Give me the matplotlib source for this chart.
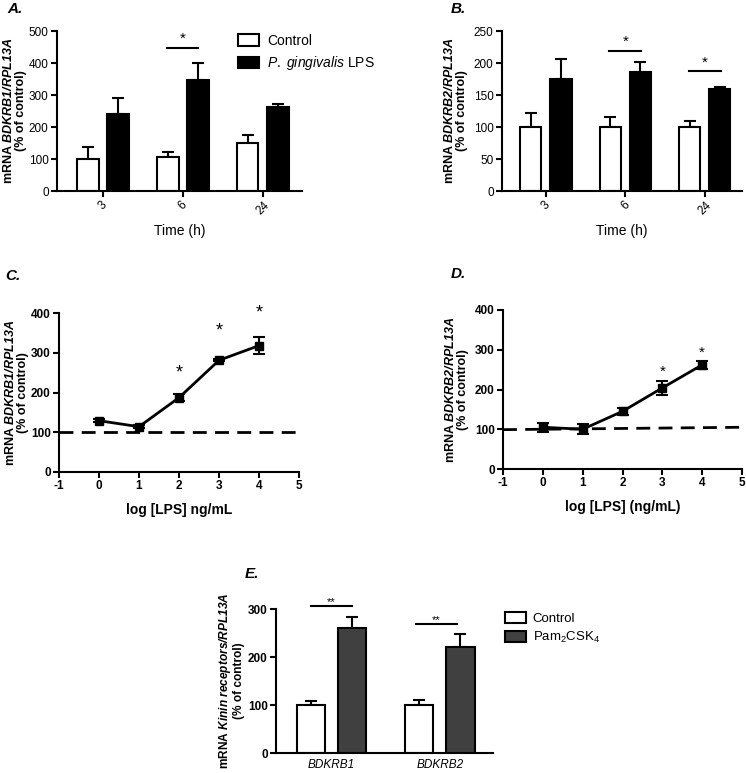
import numpy as np
import matplotlib
matplotlib.use("Agg")
import matplotlib.pyplot as plt
from matplotlib.patches import Patch

plt.rcParams['font.family'] = ['Liberation Sans', 'DejaVu Sans']
plt.rcParams['mathtext.fontset'] = 'custom'
plt.rcParams['mathtext.rm'] = 'Liberation Sans'
plt.rcParams['mathtext.it'] = 'Liberation Sans:italic'
plt.rcParams['mathtext.bfit'] = 'Liberation Sans:italic:bold'
plt.rcParams['mathtext.bf'] = 'Liberation Sans:bold'
plt.rcParams['axes.unicode_minus'] = False

# ---- data ----
times = ["3", "6", "24"]
a_ctrl = [100, 107, 150]
a_ctrl_err = [38, 14, 25]
a_lps = [240, 347, 263]
a_lps_err = [50, 53, 9]

b_ctrl = [100, 100, 100]
b_ctrl_err = [22, 16, 9]
b_lps = [175, 186, 159]
b_lps_err = [31, 16, 4]

log_lps = [0, 1, 2, 3, 4]
c_val = [129, 114, 187, 281, 318]
c_err = [4, 4, 9, 3, 21]
d_val = [105, 100, 145, 204, 262]
d_err = [11, 13, 8, 18, 10]

genes = ["BDKRB1", "BDKRB2"]
e_ctrl = [100, 100]
e_ctrl_err = [8, 10]
e_pam = [260, 221]
e_pam_err = [23, 27]

W, H = 746, 773
fig = plt.figure(figsize=(W / 100, H / 100), dpi=100)

LW = 1.5


def style(ax, bold=False):
    for s in ['top', 'right']:
        ax.spines[s].set_visible(False)
    for s in ['left', 'bottom']:
        ax.spines[s].set_linewidth(LW)
    ax.tick_params(width=LW, length=4, labelsize=8.5, pad=2)
    if bold:
        for lab in ax.get_xticklabels() + ax.get_yticklabels():
            lab.set_fontweight('bold')


def ylab(ax, gene, pad, fs=9.0):
    ax.set_ylabel("mRNA $\\mathbfit{" + gene + "}$\n(% of control)",
                  fontsize=fs, fontweight='bold', labelpad=pad, linespacing=1.0)


def bars(ax, ctrl, ctrl_err, trt, trt_err, trt_color, off, w):
    x = np.arange(len(ctrl))
    ax.bar(x - off, ctrl, w, color='white', edgecolor='k', linewidth=LW, zorder=2)
    ax.bar(x + off, trt, w, color=trt_color, edgecolor='k', linewidth=LW, zorder=2)
    z = np.zeros(len(ctrl))
    ax.errorbar(x - off, ctrl, yerr=[z, ctrl_err], fmt='none', ecolor='k',
                elinewidth=LW, capsize=4.3, capthick=LW, zorder=1)
    ax.errorbar(x + off, trt, yerr=[z, trt_err], fmt='none', ecolor='k',
                elinewidth=LW, capsize=4.3, capthick=LW, zorder=1)
    return x


def sig(ax, x0, x1, y, txt, ys, fs=11):
    ax.plot([x0, x1], [y, y], color='k', lw=LW, clip_on=False)
    ax.text((x0 + x1) / 2, ys, txt, ha='center', va='center', fontsize=fs)


# ---- A ----
axA = fig.add_axes([57 / W, 1 - 191 / H, 245 / W, 160 / H])
bars(axA, a_ctrl, a_ctrl_err, a_lps, a_lps_err, 'black', 0.19, 0.27)
axA.set_xlim(-0.575, 2.49)
axA.set_ylim(0, 500)
axA.set_yticks([0, 100, 200, 300, 400, 500])
axA.set_xticks([0, 1, 2])
axA.set_xticklabels(times, rotation=45)
axA.set_xlabel("Time (h)", fontsize=10, labelpad=5)
ylab(axA, "BDKRB1/RPL13A", 1)
style(axA)
sig(axA, 1 - 0.2, 1 + 0.19, 447, "*", 475)
axA.legend(handles=[Patch(facecolor='white', edgecolor='k', linewidth=LW),
                    Patch(facecolor='black', edgecolor='k', linewidth=LW)],
           labels=["Control", "$\\mathit{P.\\ gingivalis}$ LPS"],
           loc='upper left', bbox_to_anchor=(238 / W, 1 - 34 / H),
           bbox_transform=fig.transFigure, frameon=False, fontsize=10,
           handlelength=1.5, handleheight=0.9, handletextpad=0.6,
           labelspacing=0.45, borderaxespad=0, borderpad=0)

# ---- B ----
axB = fig.add_axes([502 / W, 1 - 191 / H, 240 / W, 160 / H])
bars(axB, b_ctrl, b_ctrl_err, b_lps, b_lps_err, 'black', 0.19, 0.265)
axB.set_xlim(-0.553, 2.47)
axB.set_ylim(0, 250)
axB.set_yticks([0, 50, 100, 150, 200, 250])
axB.set_xticks([0, 1, 2])
axB.set_xticklabels(times, rotation=45)
axB.set_xlabel("Time (h)", fontsize=10, labelpad=5)
ylab(axB, "BDKRB2/RPL13A", 4)
style(axB)
sig(axB, 1 - 0.2, 1 + 0.2, 219, "*", 233)
sig(axB, 2 - 0.2, 2 + 0.2, 188, "*", 200)

# ---- C ----
axC = fig.add_axes([59 / W, 1 - 472 / H, 240 / W, 159 / H])
axC.plot([-1, 5], [100, 100], 'k', lw=2, dashes=(5, 3))
axC.errorbar(log_lps, c_val, yerr=c_err, fmt='s-', color='k', ms=6,
             lw=2, elinewidth=1.5, capsize=4, capthick=1.5)
axC.set_xlim(-1, 5)
axC.set_ylim(0, 400)
axC.set_xticks(range(-1, 6))
axC.set_yticks([0, 100, 200, 300, 400])
axC.set_xlabel("log [LPS] ng/mL", fontsize=10, fontweight='bold', labelpad=8)
ylab(axC, "BDKRB1/RPL13A", 1)
style(axC, bold=True)
for x, y in [(2, 250), (3, 355), (4, 400)]:
    axC.text(x, y, "*", ha='center', va='center', fontsize=13)

# ---- D ----
axD = fig.add_axes([503 / W, 1 - 469 / H, 239 / W, 159 / H])
d_base_x = [-1, 5]
d_base_y = [99, 105]
axD.plot(d_base_x, d_base_y, 'k', lw=2, dashes=(5, 3))
axD.errorbar(log_lps, d_val, yerr=d_err, fmt='s-', color='k', ms=6,
             lw=2, elinewidth=1.5, capsize=4, capthick=1.5)
axD.set_xlim(-1, 5)
axD.set_ylim(0, 400)
axD.set_xticks(range(-1, 6))
axD.set_yticks([0, 100, 200, 300, 400])
axD.set_xlabel("log [LPS] (ng/mL)", fontsize=10, fontweight='bold', labelpad=8)
ylab(axD, "BDKRB2/RPL13A", 4)
style(axD, bold=True)
for x, y in [(3, 245), (4, 293)]:
    axD.text(x, y, "*", ha='center', va='center', fontsize=11)

# ---- E ----
axE = fig.add_axes([276 / W, 1 - 753 / H, 217 / W, 144 / H])
bars(axE, e_ctrl, e_ctrl_err, e_pam, e_pam_err, '#404040', 0.19, 0.26)
axE.set_xlim(-0.51, 1.49)
axE.set_ylim(0, 300)
axE.set_yticks([0, 100, 200, 300])
axE.set_xticks([0, 1])
axE.set_xticklabels(genes, fontstyle='italic')
ylab(axE, "Kinin\\ receptors/RPL13A", 2, fs=8.6)
style(axE)
for lab in axE.get_yticklabels():
    lab.set_fontweight('bold')
axE.tick_params(axis='x', length=0, labelsize=8.5, pad=4)
sig(axE, -0.19, 0.19, 306, "**", 315, fs=8)
sig(axE, 0.78, 1.16, 269, "**", 277, fs=8)
axE.legend(handles=[Patch(facecolor='white', edgecolor='k', linewidth=LW),
                    Patch(facecolor='#404040', edgecolor='k', linewidth=LW)],
           labels=["Control", "Pam$_2$CSK$_4$"],
           loc='upper left', bbox_to_anchor=(505 / W, 1 - 612 / H),
           bbox_transform=fig.transFigure, frameon=False, fontsize=9.5,
           handlelength=1.6, handleheight=0.9, handletextpad=0.5,
           labelspacing=0.35, borderaxespad=0, borderpad=0)

# ---- panel letters ----
for txt, x, y in [("A.", 15, 9), ("B.", 458, 9), ("C.", 13, 276),
                  ("D.", 458, 274), ("E.", 252, 574)]:
    fig.text(x / W, 1 - y / H, txt, fontsize=11, fontweight='bold',
             fontstyle='italic', ha='center', va='center')

fig.savefig("out.png", dpi=100)
